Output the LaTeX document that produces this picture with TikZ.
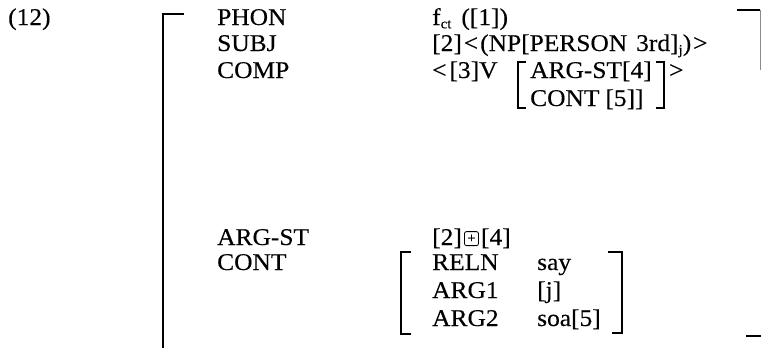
\documentclass[tikz,border=0pt]{standalone}
\usepackage{fontspec}
\setmainfont{Liberation Serif}[FakeStretch=1.06, FakeBold=0.3]
\usetikzlibrary{calc}
\newcommand\lowidx[1]{\raisebox{-0.3ex}{\fontsize{14}{14}\selectfont #1}}
\newcommand\angl{\hspace{2pt}<\hspace{2pt}}
\newcommand\angr{\hspace{2pt}>}
\begin{document}
\begin{tikzpicture}[x=1pt,y=-1pt]
\tikzset{
  lbl/.style={anchor=base west, inner sep=0pt, font=\fontsize{24}{24}\selectfont},
  brk/.style={line width=1.3pt},
  mainbrk/.style={line width=1.6pt},
  bplus/.style={draw, line width=0.8pt, rounded corners=2pt, minimum width=14pt,
    minimum height=14pt, inner sep=0pt, anchor=south west, font=\fontsize{14}{14}\selectfont},
}
\useasboundingbox (0,0) rectangle (761,348);

% example number
\node[lbl] (num) at (8,25) {(12)};

% outer attribute labels
\node[lbl] (phon)  at (217,25)  {PHON};
\node[lbl] (subj)  at (217,51)  {SUBJ};
\node[lbl] (comp)  at (217,78)  {COMP};
\node[lbl] (argst) at (217,245) {ARG-ST};
\node[lbl] (cont)  at (217,270) {CONT};

% outer values
\node[lbl] (phonv) at (432,25) {f\lowidx{ct}\hspace{10pt}([1])};
\node[lbl] (subjv) at (432,51) {[2]\angl(NP[PERSON\hspace{9pt}3rd]\lowidx{j})\angr};

% COMP value with its small bracketed structure
\node[lbl] (compv) at (432,78) {<\hspace{3pt}[3]V};
\coordinate (cl) at (518,78);
\node[lbl] (cargst) at ([xshift=12pt]cl) {ARG-ST[4]};
\node[lbl] (ccont) at (cargst.base west |- 0,106) {CONT\hspace{6pt}[5]]};
\coordinate (cr) at ([xshift=12pt]cargst.base east);
\node[lbl] (gt) at ([xshift=5pt]cr) {>};
\draw[brk] ($(cl |- 0,62)+(8,0)$) -- (cl |- 0,62) -- (cl |- 0,108) -- ++(8,0);
\draw[brk] ($(cr |- 0,62)+(-8,0)$) -- (cr |- 0,62) -- (cr |- 0,108) -- ++(-8,0);

% ARG-ST value
\node[lbl] (as2) at (432,245) {[2]};
\node[bplus] (bp) at ([xshift=2pt,yshift=-1pt]as2.base east) {+};
\node[lbl] (as4) at ([xshift=2pt]as2.base east -| bp.east) {[4]};

% CONT value
\node[lbl] (reln) at (432,270) {RELN};
\node[lbl] (say)  at (537,270) {say};
\node[lbl] (arg1) at (432,298) {ARG1};
\node[lbl] (jj)   at (537,298) {[j]};
\node[lbl] (arg2) at (432,326) {ARG2};
\node[lbl] (soa)  at (537,326) {soa[5]};
\draw[brk] (411,252) -- (401,252) -- (401,334) -- (411,334);
\draw[brk] (608,252) -- (622,252) -- (622,333) -- (612,333);

% outer brackets
\draw[mainbrk] (184,14) -- (163,14) -- (163,348);
\draw[brk] (737,10) -- (760,10);
\draw[line width=0.8pt, black!45] (760,10) -- (760,70);
\draw[brk] (746,336) -- (761,336);
\end{tikzpicture}
\end{document}
